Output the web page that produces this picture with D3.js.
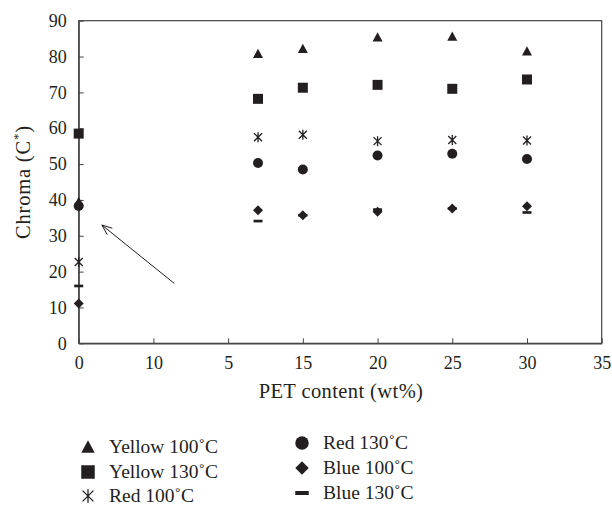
<!DOCTYPE html>
<html>
<head>
<meta charset="utf-8">
<script src="https://cdn.jsdelivr.net/npm/d3@7"></script>
<style>
  body { margin: 0; background: #fff; }
  text { font-family: "Liberation Serif", "DejaVu Serif", serif; fill: #231f20; }
</style>
</head>
<body>
<div id="chart"></div>
<script>
// data
const xVals = [0, 12, 15, 20, 25, 30];
const yellow100 = [39.5, 80.8, 82.2, 85.4, 85.6, 81.5];
const yellow130 = [58.5, 68.2, 71.3, 72.1, 71.0, 73.6];
const red100 = [22.7, 57.5, 58.2, 56.4, 56.7, 56.6];
const red130 = [38.3, 50.3, 48.5, 52.4, 52.9, 51.4];
const blue100 = [11.1, 37.1, 35.7, 36.7, 37.6, 38.2];
const blue130 = [16.0, 34.1, 35.7, 37.3, 37.6, 36.5];

const xTicks = [0, 5, 10, 15, 20, 25, 30, 35];
const xTickLabels = ["0", "10", "5", "15", "20", "25", "30", "35"];
const yTicks = [0, 10, 20, 30, 40, 50, 60, 70, 80, 90];

// arrow annotation (data coords)
const arrowFrom = [6.4, 16.7];
const arrowTo = [1.55, 33.0];

const series = [
  {name: "Yellow 100\u02daC", values: yellow100, shape: "triangle"},
  {name: "Yellow 130\u02daC", values: yellow130, shape: "square"},
  {name: "Red 100\u02daC", values: red100, shape: "star"},
  {name: "Red 130\u02daC", values: red130, shape: "circle"},
  {name: "Blue 100\u02daC", values: blue100, shape: "diamond"},
  {name: "Blue 130\u02daC", values: blue130, shape: "dash"}
];

const W = 612, H = 507;
const margin = {top: 20.7, right: 10.3, bottom: 163.7, left: 78.7};
const ink = "#231f20";

const svg = d3.select("#chart").append("svg")
  .attr("width", W).attr("height", H);

const x = d3.scaleLinear().domain([0, 35]).range([margin.left, W - margin.right]);
const y = d3.scaleLinear().domain([0, 90]).range([H - margin.bottom, margin.top]);

// marker path, s = nominal size in px
function markerPath(shape, s) {
  const h = s / 2;
  if (shape === "triangle") return `M0,${-h}L${h},${h * 0.85}L${-h},${h * 0.85}Z`;
  if (shape === "square") return `M${-h},${-h}H${h}V${h}H${-h}Z`;
  if (shape === "diamond") return `M0,${-h}L${h},0L0,${h}L${-h},0Z`;
  if (shape === "dash") return `M${-h},${-s * 0.15}H${h}V${s * 0.15}H${-h}Z`;
  if (shape === "circle") return d3.symbol(d3.symbolCircle, Math.PI * h * h)();
  if (shape === "star") {
    const d = h * 0.8;
    return `M${-d},${-d}L${d},${d}M${d},${-d}L${-d},${d}M0,${-h}V${h}`;
  }
}

function drawMarker(g, shape, s) {
  const p = g.append("path").attr("d", markerPath(shape, s));
  if (shape === "star") p.attr("fill", "none").attr("stroke", ink).attr("stroke-width", 1.3);
  else p.attr("fill", ink);
  return p;
}

// frame
const axisColor = "#444";
svg.append("rect")
  .attr("x", x(0)).attr("y", y(90))
  .attr("width", x(35) - x(0)).attr("height", y(0) - y(90))
  .attr("fill", "none").attr("stroke", axisColor).attr("stroke-width", 1.2);

// y axis
const yAxis = svg.append("g")
  .attr("transform", `translate(${x(0)},0)`)
  .call(d3.axisLeft(y).tickValues(yTicks).tickSizeInner(-5).tickSizeOuter(0).tickPadding(12));
yAxis.select(".domain").attr("stroke", axisColor).attr("stroke-width", 1.2);
yAxis.selectAll(".tick line").attr("stroke", axisColor);
yAxis.selectAll(".tick text").attr("font-size", 18).attr("fill", ink)
  .attr("font-family", "Liberation Serif");

// x axis
const xAxis = svg.append("g")
  .attr("transform", `translate(0,${y(0)})`)
  .call(d3.axisBottom(x).tickValues(xTicks)
    .tickFormat((d, i) => xTickLabels[i])
    .tickSizeInner(-5).tickSizeOuter(0).tickPadding(13));
xAxis.select(".domain").attr("stroke", axisColor).attr("stroke-width", 1.2);
xAxis.selectAll(".tick line").attr("stroke", axisColor);
xAxis.selectAll(".tick text").attr("font-size", 18).attr("fill", ink)
  .attr("font-family", "Liberation Serif");

// axis titles
svg.append("text")
  .attr("x", 341).attr("y", 398)
  .attr("text-anchor", "middle").attr("font-size", 20.5)
  .attr("letter-spacing", 0.4)
  .text("PET content (wt%)");

const yl = svg.append("text")
  .attr("transform", `translate(30,${(y(0) + y(90)) / 2}) rotate(-90)`)
  .attr("text-anchor", "middle").attr("font-size", 20.5)
  .attr("letter-spacing", 0.8);
yl.append("tspan").text("Chroma (C");
yl.append("tspan").attr("font-size", 13).attr("dy", -8).text("*");
yl.append("tspan").attr("dy", 8).text(")");

// points
series.forEach(s => {
  const g = svg.append("g");
  s.values.forEach((v, i) => {
    const m = g.append("g").attr("transform", `translate(${x(xVals[i])},${y(v)})`);
    drawMarker(m, s.shape, s.shape === "dash" ? 9 : 10);
  });
});

// arrow
const ax1 = x(arrowFrom[0]), ay1 = y(arrowFrom[1]);
const ax2 = x(arrowTo[0]), ay2 = y(arrowTo[1]);
svg.append("line")
  .attr("x1", ax1).attr("y1", ay1).attr("x2", ax2).attr("y2", ay2)
  .attr("stroke", ink).attr("stroke-width", 1);
const ang = Math.atan2(ay1 - ay2, ax1 - ax2);
[0.38, -0.38].forEach(da => {
  svg.append("line")
    .attr("x1", ax2).attr("y1", ay2)
    .attr("x2", ax2 + 11 * Math.cos(ang + da))
    .attr("y2", ay2 + 11 * Math.sin(ang + da))
    .attr("stroke", ink).attr("stroke-width", 1);
});

// legend
const legendPos = [
  {mx: 88, tx: 109, y: 447},
  {mx: 88, tx: 109, y: 472},
  {mx: 88, tx: 109, y: 496},
  {mx: 302, tx: 323, y: 443},
  {mx: 302, tx: 323, y: 468},
  {mx: 302, tx: 323, y: 493}
];
series.forEach((s, i) => {
  const p = legendPos[i];
  const g = svg.append("g").attr("transform", `translate(${p.mx},${p.y})`);
  drawMarker(g, s.shape, 13.5);
  svg.append("text")
    .attr("x", p.tx).attr("y", p.y).attr("dy", "0.33em")
    .attr("font-size", 19.5).text(s.name);
});
</script>
</body>
</html>
